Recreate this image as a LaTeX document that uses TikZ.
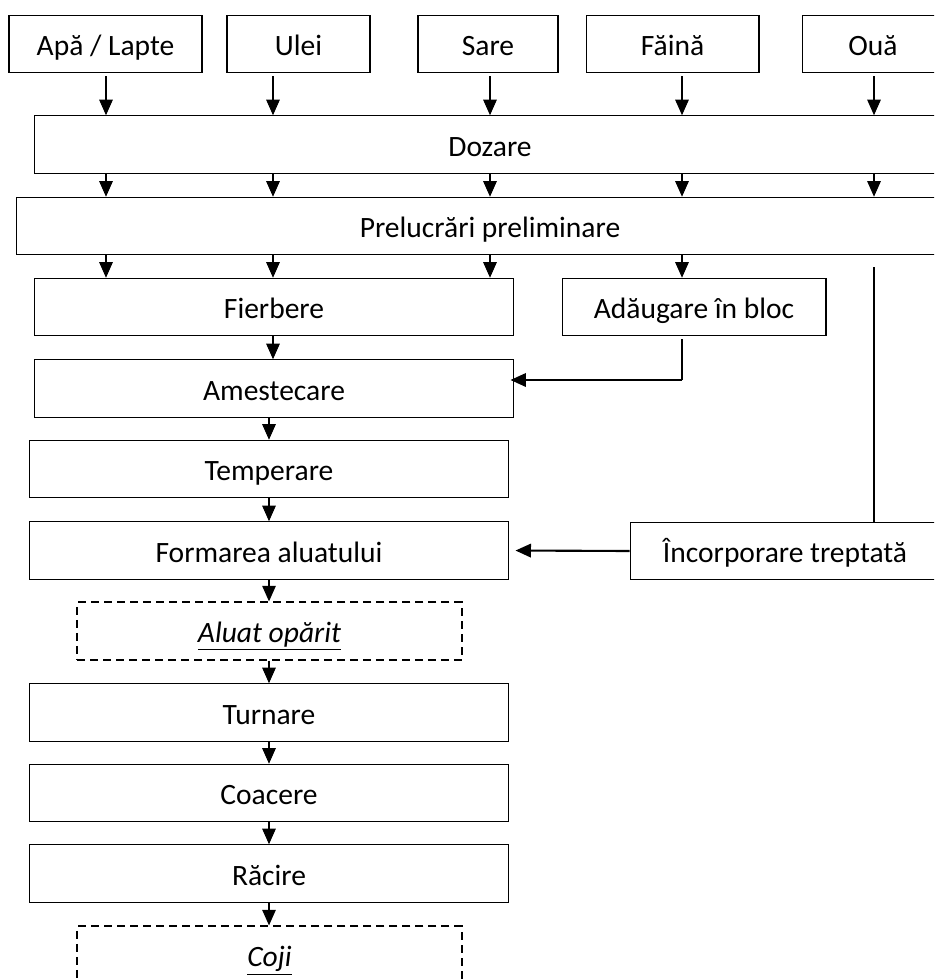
\documentclass[tikz,border=0pt]{standalone}
\usepackage{fontspec}
\setmainfont{Carlito}
\usetikzlibrary{arrows.meta, positioning, calc}

\begin{document}
\begin{tikzpicture}[
    x=0.02cm, y=-0.02cm,
    every node/.style={font=\fontsize{16.8}{20}\selectfont},
    box/.style={
        draw=black,
        line width=0.6pt,
        align=center,
        inner sep=0pt,
        text height=14.5pt,
        text depth=1.4pt,
        minimum height=1.15cm
    },
    prod/.style={
        box,
        dashed,
        line width=1pt,
        dash pattern=on 1.6mm off 1mm
    },
    arrow/.style={-{Triangle[width=2.7mm,length=3.1mm]}, line width=0.6pt},
    feed/.style={-{Triangle[width=2.7mm,length=3.1mm]}, line width=1.2pt}
]
\useasboundingbox (0,0) rectangle (934,979);
\clip (0,0) rectangle (934,979);

% columns of the arrows
\coordinate (c1) at (106,0);
\coordinate (c2) at (273,0);
\coordinate (c3) at (490,0);
\coordinate (c4) at (682,0);
\coordinate (c5) at (874,0);

% raw materials
\node[box, minimum width=3.86cm] (apa) at (105.5,44) {Apă / Lapte};
\node[box, minimum width=2.86cm] (ulei) at (298.5,44) {Ulei};
\node[box, minimum width=2.8cm] (sare) at (488,44) {Sare};
\node[box, minimum width=3.46cm] (faina) at (672.5,44) {Făină};
\node[box, minimum width=2.84cm] (oua) at (873,44) {Ouă};

\node[box, minimum width=18.24cm] (dozare) at (490,144.5) {Dozare};
\node[box, minimum width=18.96cm] (prel) at (490,226) {Prelucrări preliminare};

\node[box, minimum width=9.6cm] (fierb) at (274,307) {Fierbere};
\node[box, minimum width=5.28cm] (adaug) at (694,307) {Adăugare în bloc};
\node[box, minimum width=9.6cm] (amest) at (274,388.5) {Amestecare};
\node[box, minimum width=9.6cm] (temper) at (269,469) {Temperare};
\node[box, minimum width=9.6cm] (formare) at (269,550.5) {Formarea aluatului};
\node[box, minimum width=6.2cm] (incorp) at (785,551) {Încorporare treptată};
\node[prod, minimum width=7.7cm] (aluat) at (269.5,631) {\underline{\textit{Aluat opărit}}};
\node[box, minimum width=9.6cm] (turnare) at (269,712.5) {Turnare};
\node[box, minimum width=9.6cm] (coacere) at (269,793) {Coacere};
\node[box, minimum width=9.6cm] (racire) at (269,873.5) {Răcire};
\node[prod, minimum width=7.7cm] (coji) at (269.5,955) {\underline{\textit{Coji}}};

% dosing
\foreach \src/\col in {apa/c1, ulei/c2, sare/c3, faina/c4, oua/c5}
    \draw[arrow, shorten <=0.6mm] (\src.south -| \col) -- (dozare.north -| \col);
\foreach \col in {c1, c2, c3, c4, c5}
    \draw[arrow] (dozare.south -| \col) -- (prel.north -| \col);

% preliminary treatments
\foreach \col in {c1, c2, c3}
    \draw[arrow] (prel.south -| \col) -- (fierb.north -| \col);
\draw[arrow] (prel.south -| c4) -- (adaug.north -| c4);
\draw[line width=0.6pt, shorten <=2.4mm] (prel.south -| c5) -- (incorp.north -| c5);

% main line
\draw[arrow] (fierb.south -| c2) -- (amest.north -| c2);
\foreach \a/\b in {amest/temper, temper/formare, formare/aluat, aluat/turnare,
                   turnare/coacere, coacere/racire, racire/coji}
    \draw[arrow] (\a.south -| temper) -- (\b.north -| temper);

% side feeds
\coordinate (amestin) at ([yshift=0.17cm, xshift=-0.08cm]amest.east);
\draw[line width=0.6pt, shorten <=0.6mm] (adaug.south -| c4) -- (c4 |- amestin);
\draw[feed] (c4 |- amestin) -- (amestin);
\draw[feed, shorten >=1.2mm] (incorp.west) -- (formare.east);

\end{tikzpicture}
\end{document}
